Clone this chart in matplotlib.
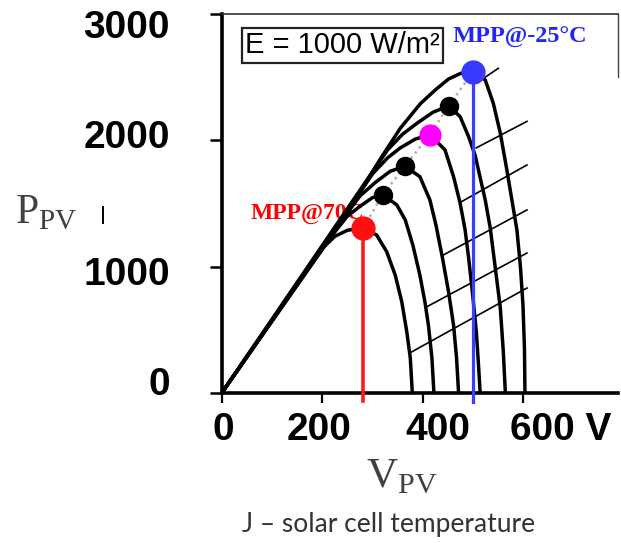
import matplotlib
matplotlib.use('Agg')
import matplotlib.pyplot as plt
from matplotlib.lines import Line2D

# P-V curves at E = 1000 W/m2 (V in volts, P in watts)
# curve 1 = hottest (70 C) ... curve 6 = coldest (-25 C)
v_c1 = [0, 200, 225, 250, 280, 308, 328, 345, 358, 368, 375, 379]
p_c1 = [0, 1144, 1240, 1288, 1306, 1251, 1119, 934, 723, 485, 277, 0]
v_c2 = [0, 220, 250, 275, 300, 320, 348, 365, 380, 394, 404, 411, 418, 422]
p_c2 = [0, 1250, 1400, 1478, 1547, 1568, 1490, 1370, 1172, 934, 723, 538, 277, 0]
v_c3 = [0, 240, 275, 305, 335, 364, 394, 414, 426, 439, 451, 461, 467, 471]
p_c3 = [0, 1373, 1560, 1665, 1755, 1795, 1713, 1528, 1330, 1069, 802, 538, 277, 0]
v_c4 = [0, 270, 300, 330, 355, 385, 414, 444, 461, 474, 484, 491, 498, 506, 510, 514]
p_c4 = [0, 1559, 1735, 1862, 1940, 2010, 2045, 1924, 1713, 1504, 1291, 1069, 815, 499, 261, 0]
v_c5 = [0, 300, 330, 360, 390, 420, 451, 474, 491, 504, 524, 534, 544, 554, 560, 564]
p_c5 = [0, 1752, 1925, 2050, 2140, 2222, 2272, 2188, 2029, 1880, 1528, 1306, 990, 673, 325, 0]
v_c6 = [0, 235, 275, 315, 355, 395, 425, 451, 475, 498, 524, 540, 554, 567, 577, 587, 594, 599, 602, 603]
p_c6 = [0, 1343, 1590, 1850, 2095, 2290, 2400, 2485, 2530, 2544, 2478, 2294, 2056, 1766, 1528, 1291, 1000, 700, 350, 0]

# maximum power points, one per curve
mpp_v = [281, 320, 364, 414, 451, 500]
mpp_p = [1306, 1568, 1795, 2045, 2272, 2544]
mpp_colors = ['#ff1010', 'black', 'black', '#ff00ff', 'black', '#3a3aff']
mpp_sizes = [16.5, 13, 13, 15, 13, 16.5]

# thin diagonal hatch lines (start V, start P, end V, end P)
hatch_v0 = [374, 408, 441, 477, 506, 524]
hatch_p0 = [317, 683, 1093, 1515, 1940, 2500]
hatch_v1 = [607, 607, 607, 607, 607, 550]
hatch_p1 = [831, 1108, 1449, 1805, 2150, 2570]

x_ticks = [0, 200, 400, 600]
x_labels = ['0', '200', '400', '600 V']
y_ticks = [0, 1000, 2000, 3000]
y_labels = ['0', '1000', '2000', '3000']

plt.rcParams['mathtext.fontset'] = 'custom'
plt.rcParams['mathtext.rm'] = 'Liberation Serif'

fig = plt.figure(figsize=(6.21, 5.43), dpi=100)
ax = fig.add_axes([221.7 / 621, 150 / 543, 396.3 / 621, 379 / 543])
ax.set_xlim(0, 788)
ax.set_ylim(0, 3000)

curves = [(v_c1, p_c1), (v_c2, p_c2), (v_c3, p_c3), (v_c4, p_c4), (v_c5, p_c5), (v_c6, p_c6)]
for v, p in curves:
    ax.plot(v, p, color='black', lw=2.5, solid_joinstyle='round', solid_capstyle='round', zorder=3)

for a, b, c, d in zip(hatch_v0, hatch_p0, hatch_v1, hatch_p1):
    ax.plot([a, c], [b, d], color='black', lw=1.2, zorder=3)

# dotted line joining the MPPs
ax.plot(mpp_v, mpp_p, color='#b0b0b0', lw=1.8, ls=(0, (1, 1.6)), zorder=4)

# vertical markers for the two labelled MPPs
ax.plot([mpp_v[0], mpp_v[0]], [mpp_p[0], -60], color='#ff1a1a', lw=2.6, zorder=5, clip_on=False)
ax.plot([mpp_v[-1], mpp_v[-1]], [mpp_p[-1], -70], color='#3d3dff', lw=2.3, zorder=5, clip_on=False)

for v, p, c, s in zip(mpp_v, mpp_p, mpp_colors, mpp_sizes):
    ax.plot(v, p, 'o', color=c, ms=s, mec=c, zorder=6)

ax.text(170, 1417, 'MPP@70C', color='#ff0000', fontsize=17, fontweight='bold',
        family='Liberation Serif', ha='center', va='center', zorder=2)
ax.text(593, 2811, 'MPP@-25°C', color='#2424f8', fontsize=17.5, fontweight='bold',
        family='Liberation Serif', ha='center', va='center', zorder=2)
ax.text(240, 2752, 'E = 1000 W/m²', fontsize=21, family='Liberation Sans', ha='center', va='center',
        bbox=dict(boxstyle='square,pad=0.12', fc='white', ec='#222222', lw=1.6), zorder=2)

# spines
for side in ['left', 'bottom']:
    ax.spines[side].set_linewidth(2.6)
ax.spines['top'].set_linewidth(1.2)
ax.spines['top'].set_color('#333333')
ax.spines['right'].set_linewidth(1.0)
ax.spines['right'].set_color('#444444')
ax.spines['right'].set_bounds(2500, 3000)

ax.set_xticks(x_ticks)
ax.set_yticks(y_ticks)
ax.tick_params(axis='x', direction='out', length=7, width=1.6, labelbottom=False)
ax.tick_params(axis='y', direction='out', length=9, width=1.8, labelleft=False)

# tick labels placed the way the scan has them
x_dx = [2, -3.3, 14.6, -13.4]
x_ha = ['center', 'center', 'center', 'left']
for t, lab, dx, ha in zip(x_ticks, x_labels, x_dx, x_ha):
    ax.annotate(lab, xy=(t, 0), xycoords=('data', 'axes fraction'),
                xytext=(dx * 0.72, -47 * 0.72), textcoords='offset points',
                ha=ha, va='baseline', fontsize=28, fontweight='bold', family='Liberation Sans',
                annotation_clip=False)
y_dy = [-2, -18.3, -7.6, -23.9]
for t, lab, dy in zip(y_ticks, y_labels, y_dy):
    ax.annotate(lab, xy=(0, t), xycoords=('axes fraction', 'data'),
                xytext=(-51.7 * 0.72, dy * 0.72), textcoords='offset points',
                ha='right', va='baseline', fontsize=28, fontweight='bold', family='Liberation Sans',
                annotation_clip=False)

fig.text(15 / 621, 1 - 223 / 543, r'$\mathrm{P}_{\mathrm{PV}}$', fontsize=30, color='#404040',
         ha='left', va='baseline')
fig.text(366 / 621, 1 - 487 / 543, r'$\mathrm{V}_{\mathrm{PV}}$', fontsize=31, color='#404040',
         ha='left', va='baseline')
fig.text(389 / 621, 1 - 532 / 543, 'J – solar cell temperature', fontsize=19, color='#333333',
         family='Lato', ha='center', va='baseline')
fig.add_artist(Line2D([103 / 621, 103 / 621], [1 - 207 / 543, 1 - 223 / 543], color='black', lw=1.4))

fig.savefig('out.png', dpi=100, facecolor='white')
